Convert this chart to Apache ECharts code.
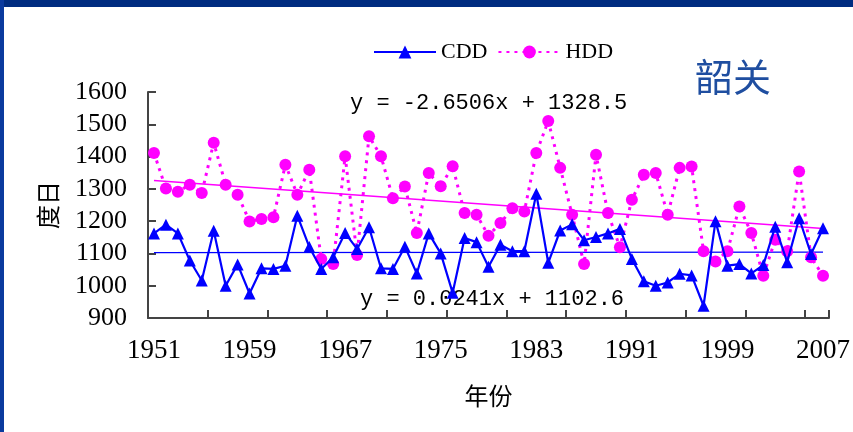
<!DOCTYPE html>
<html>
<head>
<meta charset="utf-8">
<script src="https://cdn.jsdelivr.net/npm/echarts@6/dist/echarts.min.js"></script>
<style>
html,body{margin:0;padding:0;background:#fff;}
#c{width:853px;height:432px;}
</style>
</head>
<body>
<div id="c"></div>
<script>
const years = [];
for (let y = 1951; y <= 2007; y++) years.push(String(y));

const cdd = [1162,1189,1162,1078,1016,1170,1000,1066,976,1054,
             1052,1062,1217,1120,1052,1088,1163,1114,1181,1054,
             1052,1121,1038,1162,1100,978,1148,1135,1059,1127,
             1107,1107,1285,1071,1171,1190,1141,1151,1162,1176,
             1083,1014,1000,1010,1037,1032,938,1200,1062,1067,
             1038,1064,1183,1073,1209,1098,1178];

const hdd = [1411,1301,1291,1313,1287,1443,1313,1282,1199,1207,
             1212,1375,1282,1359,1083,1067,1401,1095,1463,1401,
             1271,1307,1163,1349,1308,1370,1225,1220,1155,1194,
             1240,1230,1411,1510,1365,1220,1067,1406,1225,1119,
             1266,1344,1349,1220,1365,1369,1107,1075,1107,1245,
             1163,1031,1142,1107,1354,1088,1031];

// Linear trendline end values (from the displayed equations, at 1951 and 2007)
const cddTrendEnds = [1102.6, 1104.0];
const hddTrendEnds = [1325.8, 1177.4];

const yTicks = { min: 900, max: 1600, interval: 100 };

function endsSeries(ends) {
  const arr = years.map(() => null);
  arr[0] = ends[0];
  arr[arr.length - 1] = ends[1];
  return arr;
}

const chart = echarts.init(document.getElementById('c'));
chart.setOption({
  animation: false,
  backgroundColor: '#ffffff',
  grid: { left: 148, right: 21, top: 92, bottom: 114 },
  legend: {
    data: ['CDD', 'HDD'],
    left: 368, top: 36,
    itemWidth: 62, itemHeight: 16, itemGap: 10,
    textStyle: { fontFamily: 'Liberation Serif', fontSize: 22, color: '#000' }
  },
  xAxis: {
    type: 'category',
    data: years,
    boundaryGap: true,
    name: '年份',
    nameLocation: 'middle',
    nameGap: 66,
    nameTextStyle: { fontFamily: 'Noto Sans CJK SC', fontSize: 24, color: '#000' },
    axisLine: { lineStyle: { color: '#444', width: 2 } },
    axisTick: { show: true, inside: true, length: 8, interval: 4, lineStyle: { color: '#444', width: 2 } },
    axisLabel: { interval: 7, margin: 19, fontFamily: 'Liberation Serif', fontSize: 27, color: '#000' },
    splitLine: { show: false }
  },
  yAxis: {
    type: 'value',
    min: yTicks.min, max: yTicks.max, interval: yTicks.interval,
    name: '度日',
    nameLocation: 'middle',
    nameGap: 88,
    nameTextStyle: { fontFamily: 'Noto Sans CJK SC', fontSize: 24, color: '#000' },
    axisLine: { show: true, lineStyle: { color: '#444', width: 2 } },
    axisTick: { show: true, inside: true, length: 8, lineStyle: { color: '#444', width: 2 } },
    axisLabel: { margin: 21, fontFamily: 'Liberation Serif', fontSize: 26, color: '#000',
                 formatter: v => String(v) },
    splitLine: { show: false }
  },
  series: [
    {
      name: 'CDD trend', type: 'line', data: endsSeries(cddTrendEnds), connectNulls: true,
      symbol: 'none', lineStyle: { color: '#0000ff', width: 1.3 }, silent: true, z: 1
    },
    {
      name: 'HDD trend', type: 'line', data: endsSeries(hddTrendEnds), connectNulls: true,
      symbol: 'none', lineStyle: { color: '#ff00ff', width: 1.6 }, silent: true, z: 1
    },
    {
      name: 'CDD', type: 'line', data: cdd,
      symbol: 'triangle', symbolSize: 12, showAllSymbol: true,
      itemStyle: { color: '#0000ff' },
      lineStyle: { color: '#0000ff', width: 2.2 }, z: 3
    },
    {
      name: 'HDD', type: 'line', data: hdd,
      symbol: 'circle', symbolSize: 12, showAllSymbol: true,
      itemStyle: { color: '#ff00ff' },
      lineStyle: { color: '#ff00ff', width: 3, type: [3, 5] }, z: 2
    }
  ],
  graphic: [
    { type: 'rect', left: 0, top: 0, shape: { width: 853, height: 7 }, style: { fill: '#002c80' }, z: 100 },
    { type: 'rect', left: 0, top: 0, shape: { width: 4, height: 432 }, style: { fill: '#0a3a9e' }, z: 100 },
    { type: 'text', left: 695, top: 58, style: { text: '韶关', fontFamily: 'Noto Sans CJK SC', fontSize: 38, fill: '#1f4ea0' } },
    { type: 'text', left: 350, top: 92, style: { text: 'y = -2.6506x + 1328.5', fontFamily: 'Liberation Mono', fontSize: 22, fill: '#000' } },
    { type: 'text', left: 360, top: 288, style: { text: 'y = 0.0241x + 1102.6', fontFamily: 'Liberation Mono', fontSize: 22, fill: '#000' } }
  ]
});
</script>
</body>
</html>
